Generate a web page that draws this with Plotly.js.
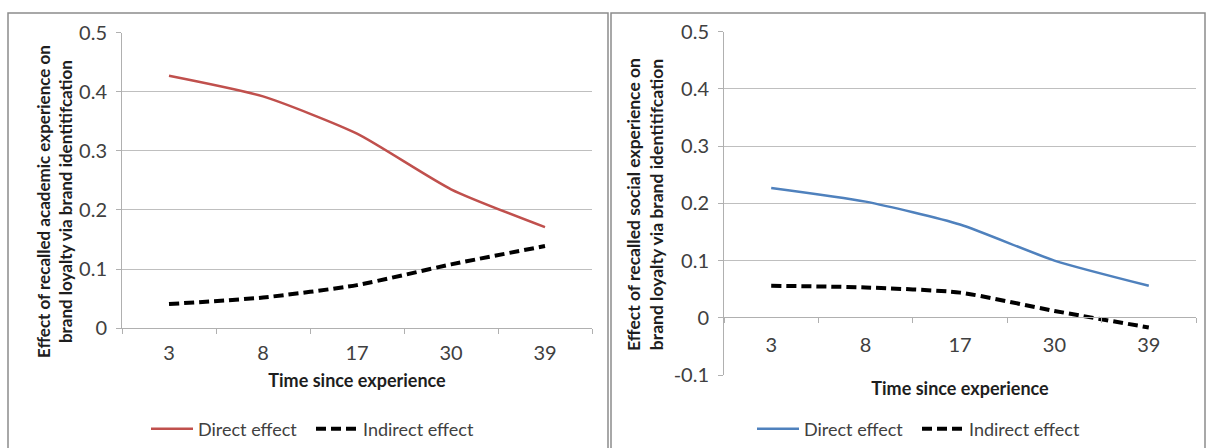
<!DOCTYPE html>
<html>
<head>
<meta charset="utf-8">
<script src="https://cdn.plot.ly/plotly-3.0.1.min.js"></script>
<style>
  html, body { margin: 0; padding: 0; background: #ffffff; }
  #chart { width: 1206px; height: 448px; }
</style>
</head>
<body>
<div id="chart"></div>
<script>
// ---- data ----
const timeCategories = ['3', '8', '17', '30', '39'];

const academicDirect   = [0.427, 0.392, 0.329, 0.235, 0.171];
const academicIndirect = [0.041, 0.052, 0.073, 0.108, 0.139];

const socialDirect   = [0.227, 0.203, 0.163, 0.100, 0.056];
const socialIndirect = [0.056, 0.053, 0.044, 0.012, -0.017];

const leftTickVals  = [0, 0.1, 0.2, 0.3, 0.4, 0.5];
const leftTickText  = ['0', '0.1', '0.2', '0.3', '0.4', '0.5'];
const rightTickVals = [-0.1, 0, 0.1, 0.2, 0.3, 0.4, 0.5];
const rightTickText = ['-0.1', '0', '0.1', '0.2', '0.3', '0.4', '0.5'];

const seriesNames = ['Direct effect', 'Indirect effect'];
const xTitle = 'Time since experience';
const leftYTitle  = 'Effect of recalled academic experience on<br>brand loyalty via brand identitifcation';
const rightYTitle = 'Effect of recalled social experience on<br>brand loyalty via brand identitifcation';

// ---- layout helpers (pixel -> paper fraction) ----
const W = 1206, H = 448;
const fx = px => px / W;
const fy = py => (H - py) / H;

const FONT = 'Lato, "Liberation Sans", Arial, sans-serif';
const GRID = '#bfbfbf';
const AXIS = '#b0b0b0';
const TICKTXT = '#404040';
const TITLE = '#1e1e1e';

const traces = [
  { x: timeCategories, y: academicDirect, name: seriesNames[0], type: 'scatter', mode: 'lines',
    line: { color: '#c0504d', width: 2.5, shape: 'spline', smoothing: 0.6 },
    xaxis: 'x', yaxis: 'y', legend: 'legend' },
  { x: timeCategories, y: academicIndirect, name: seriesNames[1], type: 'scatter', mode: 'lines',
    line: { color: '#000000', width: 4, dash: '10px,5px', shape: 'spline', smoothing: 0.6 },
    xaxis: 'x', yaxis: 'y', legend: 'legend' },
  { x: timeCategories, y: socialDirect, name: seriesNames[0], type: 'scatter', mode: 'lines',
    line: { color: '#4f81bd', width: 2.5, shape: 'spline', smoothing: 0.6 },
    xaxis: 'x2', yaxis: 'y2', legend: 'legend2' },
  { x: timeCategories, y: socialIndirect, name: seriesNames[1], type: 'scatter', mode: 'lines',
    line: { color: '#000000', width: 4, dash: '10px,5px', shape: 'spline', smoothing: 0.6 },
    xaxis: 'x2', yaxis: 'y2', legend: 'legend2' }
];

const TICKSIZE = 20;

function xAxis(domain, extra) {
  return Object.assign({
    type: 'category', domain: domain, range: [-0.5, 4.5],
    showline: true, linecolor: AXIS, linewidth: 1,
    ticks: 'outside', tickson: 'boundaries', ticklen: 5, tickcolor: AXIS,
    showgrid: false, zeroline: false,
    tickfont: { family: FONT, size: TICKSIZE, color: TICKTXT },
    fixedrange: true
  }, extra || {});
}
function yAxis(domain, range, vals, text) {
  return {
    domain: domain, range: range,
    tickmode: 'array', tickvals: vals, ticktext: text,
    showline: true, linecolor: AXIS, linewidth: 1,
    ticks: 'outside', ticklen: 5, tickcolor: AXIS,
    showgrid: true, gridcolor: GRID, gridwidth: 1, zeroline: false,
    tickfont: { family: FONT, size: TICKSIZE, color: TICKTXT },
    ticklabelstandoff: 5,
    fixedrange: true
  };
}

const legendBase = {
  orientation: 'h', xanchor: 'center', yanchor: 'middle',
  font: { family: FONT, size: 18, color: TICKTXT },
  bgcolor: 'rgba(0,0,0,0)', itemwidth: 42,
  entrywidth: 108, entrywidthmode: 'pixels'
};

const xTitleFont = { family: FONT, size: 18, color: TITLE, weight: 'bold' };

const layout = {
  width: W, height: H,
  margin: { l: 0, r: 0, t: 0, b: 0 },
  paper_bgcolor: '#ffffff', plot_bgcolor: '#ffffff',
  showlegend: true,
  xaxis: xAxis([fx(122), fx(592)], { anchor: 'y', ticklabelstandoff: 7,
    title: { text: xTitle, font: xTitleFont, standoff: 11 } }),
  yaxis: yAxis([fy(328.3), fy(32.5)], [0, 0.5], leftTickVals, leftTickText),
  xaxis2: xAxis([fx(724), fx(1196)], { anchor: 'free', position: fy(317.3), ticklabelstandoff: 10,
    title: { text: xTitle, font: xTitleFont, standoff: 27 } }),
  yaxis2: Object.assign(yAxis([fy(375), fy(31.7)], [-0.1, 0.5], rightTickVals, rightTickText), { anchor: 'x2' }),
  legend: Object.assign({}, legendBase, { x: fx(311), y: fy(429) }),
  legend2: Object.assign({}, legendBase, { x: fx(917), y: fy(429) }),
  annotations: [
    { text: leftYTitle, xref: 'paper', yref: 'paper', x: fx(55), y: fy(202),
      showarrow: false, textangle: -90, xanchor: 'center', yanchor: 'middle',
      font: { family: FONT, size: 17, color: TITLE, weight: 'bold' } },
    { text: rightYTitle, xref: 'paper', yref: 'paper', x: fx(645), y: fy(204),
      showarrow: false, textangle: -90, xanchor: 'center', yanchor: 'middle',
      font: { family: FONT, size: 17.5, color: TITLE, weight: 'bold' } }
  ],
  shapes: [
    { type: 'rect', xref: 'paper', yref: 'paper', x0: fx(8), x1: fx(608), y0: -0.05, y1: fy(13),
      line: { color: '#8c8c8c', width: 1.5 }, fillcolor: 'rgba(0,0,0,0)', layer: 'below' },
    { type: 'rect', xref: 'paper', yref: 'paper', x0: fx(611), x1: fx(1205), y0: -0.05, y1: fy(13),
      line: { color: '#8c8c8c', width: 1.5 }, fillcolor: 'rgba(0,0,0,0)', layer: 'below' }
  ]
};

Plotly.newPlot('chart', traces, layout, { displayModeBar: false, staticPlot: true });
</script>
</body>
</html>
